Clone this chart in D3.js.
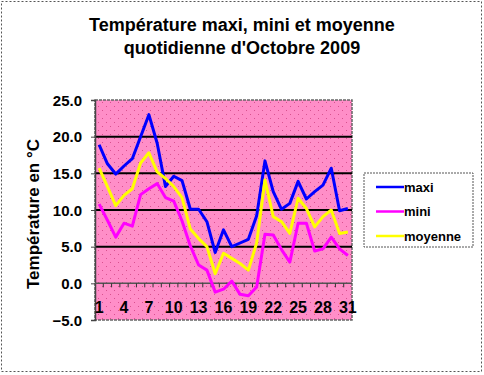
<!DOCTYPE html>
<html>
<head>
<meta charset="utf-8">
<script src="https://cdn.jsdelivr.net/npm/d3@7"></script>
<style>
  body { margin: 0; background: #fff; }
  svg { display: block; }
  text { font-family: Arial, "Liberation Sans", sans-serif; font-weight: bold; fill: #000; }
</style>
</head>
<body>
<svg></svg>
<script>
// Données : températures d'octobre 2009
const jours = d3.range(1, 32);
const maxi = [18.9, 16.3, 14.9, 16.0, 17.0, 20.0, 23.0, 19.1, 13.2, 14.6, 14.0, 10.1, 10.1, 8.4, 4.2, 7.3,
  5.0, 5.5, 6.0, 9.2, 16.7, 12.5, 10.1, 10.9, 13.9, 11.5, 12.5, 13.4, 15.7, 9.9, 10.2];
const mini = [10.8, 8.6, 6.3, 8.2, 7.8, 12.1, 12.9, 13.6, 11.7, 11.2, 8.5, 5.1, 2.5, 1.8, -1.2, -0.8,
  0.3, -1.5, -1.7, -0.5, 6.7, 6.6, 4.6, 2.9, 8.2, 8.2, 4.4, 4.7, 6.3, 4.7, 3.8];
const moyenne = [15.7, 13.2, 10.6, 12.0, 12.9, 16.4, 17.8, 15.2, 14.3, 13.2, 11.7, 7.4, 6.1, 5.0, 1.3, 4.1,
  3.4, 2.7, 1.8, 5.5, 14.1, 9.1, 8.4, 6.8, 11.6, 10.2, 7.7, 9.1, 10.0, 6.8, 7.0];
const joursEtiquetes = [1, 4, 7, 10, 13, 16, 19, 22, 25, 28, 31];
const yTicks = [-5, 0, 5, 10, 15, 20, 25];
const series = [
  { nom: 'maxi', valeurs: maxi, couleur: '#0000ff' },
  { nom: 'mini', valeurs: mini, couleur: '#ff00ff' },
  { nom: 'moyenne', valeurs: moyenne, couleur: '#ffff00' }
];

var WIDTH = 484;
var HEIGHT = 375;
var plot = { left: 95, right: 352, top: 100, bottom: 320 };

const svg = d3.select('svg')
  .attr('width', WIDTH)
  .attr('height', HEIGHT);

// Cadre pointillé autour du graphique
svg.append('rect')
  .attr('x', 1.5).attr('y', 1.5)
  .attr('width', 480).attr('height', 370)
  .attr('fill', 'none')
  .attr('stroke', '#555')
  .attr('stroke-dasharray', '2,2');

// Motif rose à points
var defs = svg.append('defs');
var pat = defs.append('pattern')
  .attr('id', 'points')
  .attr('width', 8).attr('height', 8)
  .attr('patternUnits', 'userSpaceOnUse');
pat.append('rect').attr('width', 8).attr('height', 8).attr('fill', '#ff8ec8');
pat.append('rect').attr('x', 2).attr('y', 2).attr('width', 1).attr('height', 1).attr('fill', '#d9508f');
pat.append('rect').attr('x', 6).attr('y', 6).attr('width', 1).attr('height', 1).attr('fill', '#d9508f');

// Echelles
var x = d3.scaleBand()
  .domain(jours)
  .range([plot.left, plot.right])
  .padding(0);
var y = d3.scaleLinear()
  .domain([-5, 25])
  .range([plot.bottom, plot.top]);

// Titre
var titre = svg.append('text')
  .attr('text-anchor', 'middle')
  .style('font-size', '18px');
titre.append('tspan').attr('x', 242).attr('y', 31).text('Température maxi, mini et moyenne');
titre.append('tspan').attr('x', 242).attr('y', 54).text("quotidienne d'Octobre 2009");

// Zone de tracé
svg.append('rect')
  .attr('x', plot.left).attr('y', plot.top)
  .attr('width', plot.right - plot.left)
  .attr('height', plot.bottom - plot.top)
  .attr('fill', 'url(#points)')
  .attr('stroke', '#666')
  .attr('stroke-width', 1.5)
  .attr('stroke-dasharray', '3,1');

// Quadrillage horizontal
svg.append('g')
  .selectAll('line')
  .data(yTicks.filter(d => d > 0 && d < 25))
  .enter()
  .append('line')
  .attr('x1', plot.left).attr('x2', plot.right)
  .attr('y1', d => y(d)).attr('y2', d => y(d))
  .attr('stroke', '#000')
  .attr('stroke-width', 2);

// Axe Y
var axeY = svg.append('g')
  .attr('transform', 'translate(' + plot.left + ',0)')
  .call(d3.axisLeft(y).tickValues(yTicks).tickSize(4).tickPadding(9).tickFormat(d3.format('.1f')));
axeY.select('.domain').attr('stroke', '#444').attr('stroke-width', 1.5);
axeY.selectAll('.tick line').attr('stroke', '#444');
axeY.selectAll('text').style('font-size', '15px').attr('dy', '0.35em');

// Axe X (à zéro)
var axeX = svg.append('g')
  .attr('transform', 'translate(0,' + y(0) + ')');
axeX.append('line')
  .attr('x1', plot.left).attr('x2', plot.right)
  .attr('stroke', '#555').attr('stroke-width', 1.5);
axeX.selectAll('.tic')
  .data(jours.slice(1))
  .enter()
  .append('line')
  .attr('x1', d => x(d)).attr('x2', d => x(d))
  .attr('y1', 0).attr('y2', 4)
  .attr('stroke', '#333');
axeX.selectAll('text')
  .data(joursEtiquetes)
  .enter()
  .append('text')
  .attr('x', d => x(d) + x.bandwidth() / 2)
  .attr('y', 30)
  .attr('text-anchor', 'middle')
  .style('font-size', '16px')
  .text(d => d);

// Titre de l'axe Y
svg.append('text')
  .attr('transform', 'translate(39,' + ((plot.top + plot.bottom) / 2 + 4) + ') rotate(-90)')
  .attr('text-anchor', 'middle')
  .style('font-size', '17px')
  .text('Température en °C');

// Courbes
var ligne = d3.line()
  .x((d, i) => x(jours[i]) + x.bandwidth() / 2)
  .y(d => y(d));
svg.append('g')
  .selectAll('path')
  .data(series)
  .enter()
  .append('path')
  .attr('d', d => ligne(d.valeurs))
  .attr('fill', 'none')
  .attr('stroke', d => d.couleur)
  .attr('stroke-width', 3)
  .attr('stroke-linejoin', 'round');

// Légende
var legende = svg.append('g').attr('transform', 'translate(364,173)');
legende.append('rect')
  .attr('width', 109).attr('height', 74)
  .attr('fill', '#fff')
  .attr('stroke', '#555')
  .attr('stroke-dasharray', '2,1');
var item = legende.selectAll('.item')
  .data(series)
  .enter()
  .append('g')
  .attr('transform', (d, i) => 'translate(0,' + (14 + i * 24.5) + ')');
item.append('line')
  .attr('x1', 12).attr('x2', 40)
  .attr('stroke', d => d.couleur)
  .attr('stroke-width', 2.5);
item.append('text')
  .attr('x', 40)
  .attr('dy', '0.35em')
  .style('font-size', '13px')
  .text(d => d.nom);
</script>
</body>
</html>
